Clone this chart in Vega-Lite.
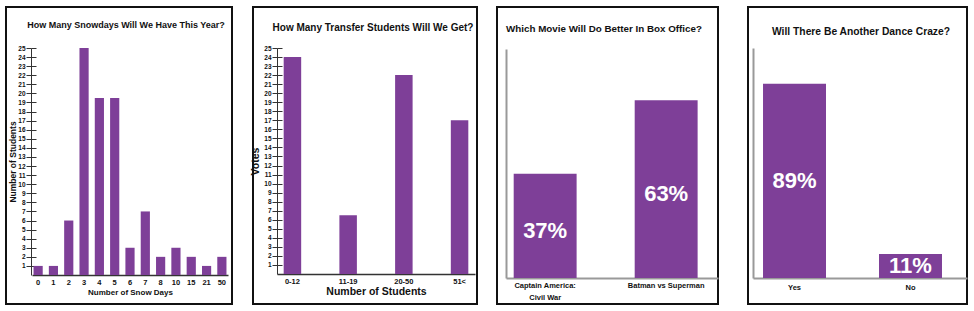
{
  "$schema": "https://vega.github.io/schema/vega-lite/v6.json",
  "background": "white",
  "padding": {"left": 5, "top": 6, "right": 0, "bottom": 0},
  "config": {
    "view": {"stroke": "#111", "strokeWidth": 2},
    "font": "Liberation Sans",
    "axis": {"labelFont": "Liberation Sans", "labelFontWeight": "bold", "labelColor": "#111", "titleFont": "Liberation Sans", "titleFontWeight": "bold", "titleColor": "#111", "grid": false},
    "title": {"font": "Liberation Sans", "fontWeight": "bold", "color": "#111"},
    "bar": {"color": "#7E3F98"}
  },
  "spacing": 28,
  "hconcat": [
    {
      "spacing": 18,
      "hconcat": [
        {
          "spacing": 16,
          "hconcat": [
            {
              "width": 226, "height": 297,
              "title": {"text": "How Many Snowdays Will We Have This Year?", "fontSize": 9, "offset": -23, "dx": 7},
              "data": {"values": [
                {"days": "0", "students": 1}, {"days": "1", "students": 1}, {"days": "2", "students": 6},
                {"days": "3", "students": 25}, {"days": "4", "students": 19.5}, {"days": "5", "students": 19.5},
                {"days": "6", "students": 3}, {"days": "7", "students": 7}, {"days": "8", "students": 2},
                {"days": "10", "students": 3}, {"days": "15", "students": 2}, {"days": "21", "students": 1},
                {"days": "50", "students": 2}
              ]},
              "encoding": {
                "x": {"field": "days", "type": "nominal", "sort": null,
                  "scale": {"range": [26, 222], "paddingInner": 0.4, "paddingOuter": 0.1},
                  "axis": {"title": "Number of Snow Days", "offset": -29, "labelAngle": 0, "ticks": false, "labelFontSize": 7.5, "labelPadding": 3, "titleFontSize": 8, "titlePadding": 3, "domainColor": "#333", "domainWidth": 1.5}}
              },
              "layer": [
                {
                  "mark": {"type": "bar"},
                  "encoding": {
                    "y": {"field": "students", "type": "quantitative",
                      "scale": {"domain": [0, 25], "range": [268, 41], "nice": false},
                      "axis": {"title": "Number of Students", "offset": -25, "values": [1,2,3,4,5,6,7,8,9,10,11,12,13,14,15,16,17,18,19,20,21,22,23,24,25], "tickSize": 5, "tickColor": "#333", "domainColor": "#333", "labelFontSize": 6.5, "labelPadding": 1, "titleFontSize": 8.5, "titlePadding": 0}}
                  }
                },
                {
                  "mark": {"type": "bar", "opacity": 0},
                  "encoding": {
                    "y": {"field": "students", "type": "quantitative",
                      "axis": {"orient": "right", "title": null, "offset": -201, "labels": false, "domain": false, "values": [1,2,3,4,5,6,7,8,9,10,11,12,13,14,15,16,17,18,19,20,21,22,23,24,25], "tickSize": 5, "tickColor": "#333"}}
                  }
                }
              ],
              "resolve": {"axis": {"y": "independent"}}
            },
            {
              "width": 224, "height": 297,
              "title": {"text": "How Many Transfer Students Will We Get?", "fontSize": 10, "offset": -26, "dx": 8},
              "data": {"values": [
                {"range": "0-12", "votes": 24}, {"range": "11-19", "votes": 6.5},
                {"range": "20-50", "votes": 22}, {"range": "51<", "votes": 17}
              ]},
              "encoding": {
                "x": {"field": "range", "type": "nominal", "sort": null,
                  "scale": {"range": [24, 222], "paddingInner": 0.686, "paddingOuter": 0.12},
                  "axis": {"title": "Number of Students", "offset": -30, "labelAngle": 0, "ticks": false, "labelFontSize": 7.5, "labelPadding": 3, "titleFontSize": 10.5, "titlePadding": 2, "domainColor": "#333", "domainWidth": 1.5}}
              },
              "layer": [
                {
                  "mark": {"type": "bar"},
                  "encoding": {
                    "y": {"field": "votes", "type": "quantitative",
                      "scale": {"domain": [0, 25], "range": [267, 41], "nice": false},
                      "axis": {"title": "Votes", "offset": -24, "values": [1,2,3,4,5,6,7,8,9,10,11,12,13,14,15,16,17,18,19,20,21,22,23,24,25], "tickSize": 5, "tickColor": "#333", "domainColor": "#333", "labelFontSize": 6.5, "labelPadding": 1, "titleFontSize": 10.5, "titlePadding": 3}}
                  }
                },
                {
                  "mark": {"type": "bar", "opacity": 0},
                  "encoding": {
                    "y": {"field": "votes", "type": "quantitative",
                      "axis": {"orient": "right", "title": null, "offset": -200, "labels": false, "domain": false, "values": [1,2,3,4,5,6,7,8,9,10,11,12,13,14,15,16,17,18,19,20,21,22,23,24,25], "tickSize": 5, "tickColor": "#333"}}
                  }
                }
              ],
              "resolve": {"axis": {"y": "independent"}}
            }
          ]
        },
        {
          "width": 221, "height": 297,
          "title": {"text": "Which Movie Will Do Better In Box Office?", "fontSize": 9.8, "offset": -27, "dx": -3.5},
          "data": {"values": [
            {"movie": "Captain America: Civil War", "share": 0.37},
            {"movie": "Batman vs Superman", "share": 0.63}
          ]},
          "transform": [{"calculate": "datum.share / 2", "as": "mid"}],
          "encoding": {
            "x": {"field": "movie", "type": "nominal", "sort": null,
              "scale": {"range": [9, 221], "paddingInner": 0.48, "paddingOuter": 0.116, "align": 0.274},
              "axis": {"title": null, "offset": -26, "labelAngle": 0, "ticks": false, "domainColor": "#999", "domainWidth": 2, "labelFontSize": 7.5, "labelPadding": 3, "labelLineHeight": 12,
                "labelExpr": "datum.value == 'Captain America: Civil War' ? ['Captain America:', 'Civil War'] : datum.label"}}
          },
          "layer": [
            {
              "mark": {"type": "bar"},
              "encoding": {
                "y": {"field": "share", "type": "quantitative",
                  "scale": {"domain": [0, 0.812], "range": [271, 42], "nice": false},
                  "axis": {"title": null, "offset": -9, "labels": false, "ticks": false, "domainColor": "#999", "domainWidth": 2}}
              }
            },
            {
              "mark": {"type": "text", "color": "white", "fontSize": 22, "fontWeight": "bold", "baseline": "middle", "dy": 5, "font": "Liberation Sans"},
              "encoding": {
                "y": {"field": "mid", "type": "quantitative"},
                "text": {"field": "share", "type": "quantitative", "format": ".0%"}
              }
            }
          ]
        }
      ]
    },
    {
      "width": 219, "height": 297,
      "title": {"text": "Will There Be Another Dance Craze?", "fontSize": 10.3, "offset": -30, "dx": 3.5},
      "data": {"values": [
        {"answer": "Yes", "share": 0.89},
        {"answer": "No", "share": 0.11}
      ]},
      "transform": [{"calculate": "datum.share / 2", "as": "mid"}],
      "encoding": {
        "x": {"field": "answer", "type": "nominal", "sort": null,
          "scale": {"range": [5, 219], "paddingInner": 0.457, "paddingOuter": 0.151, "align": 0.286},
          "axis": {"title": null, "offset": -26, "labelAngle": 0, "ticks": false, "domainColor": "#999", "domainWidth": 2, "labelFontSize": 7.5, "labelPadding": 5}}
      },
      "layer": [
        {
          "mark": {"type": "bar"},
          "encoding": {
            "y": {"field": "share", "type": "quantitative",
              "scale": {"domain": [0, 1.054], "range": [271, 41], "nice": false},
              "axis": {"title": null, "offset": -5, "labels": false, "ticks": false, "domainColor": "#999", "domainWidth": 2}}
          }
        },
        {
          "mark": {"type": "text", "color": "white", "fontSize": 22, "fontWeight": "bold", "baseline": "middle", "font": "Liberation Sans"},
          "encoding": {
            "y": {"field": "mid", "type": "quantitative"},
            "text": {"field": "share", "type": "quantitative", "format": ".0%"}
          }
        }
      ]
    }
  ]
}
